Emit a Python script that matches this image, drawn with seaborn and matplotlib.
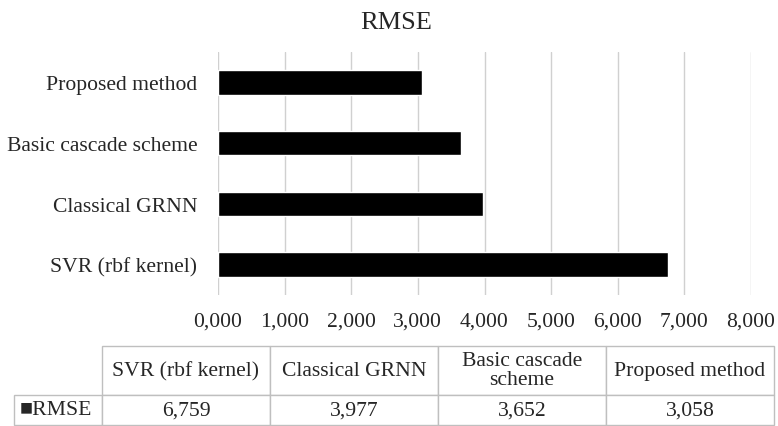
import seaborn as sns
import matplotlib.pyplot as plt
import pandas as pd

# data
methods = ['Proposed method', 'Basic cascade scheme', 'Classical GRNN', 'SVR (rbf kernel)']
rmse = [3.058, 3.652, 3.977, 6.759]
xticks = [0, 1, 2, 3, 4, 5, 6, 7, 8]

# table columns run the other way round
table_cols = ['SVR (rbf kernel)', 'Classical GRNN', 'Basic cascade\nscheme', 'Proposed method']
table_vals = [6.759, 3.977, 3.652, 3.058]

FS = 15.6

sns.set_style('white')
plt.rcParams['font.family'] = ['Liberation Serif', 'DejaVu Serif']
plt.rcParams['font.size'] = FS

df = pd.DataFrame({'method': methods, 'RMSE': rmse})

fig = plt.figure(figsize=(7.78, 4.27), dpi=100)
ax = fig.add_axes([218 / 778, 1 - 296 / 427, 533 / 778, 243 / 427])

sns.barplot(data=df, x='RMSE', y='method', order=methods, orient='h',
            color='black', width=0.4, saturation=1, ax=ax)

ax.set_xlim(0, 8)
ax.set_xticks(xticks)
ax.set_xticklabels([f'{v:.3f}'.replace('.', ',') for v in xticks])
ax.set_xlabel('')
ax.set_ylabel('')
ax.grid(axis='x', color='#d0d0d0', linewidth=1)
ax.set_axisbelow(True)
ax.tick_params(axis='x', length=0, pad=12, labelsize=FS)
ax.tick_params(axis='y', length=0, pad=15, labelsize=FS)
sns.despine(ax=ax, left=True, bottom=True)

fig.text(396 / 778, 1 - 23 / 427, 'RMSE', ha='center', va='center', fontsize=19)

# data table under the chart, built as plain cells (first column = row label)
tax = fig.add_axes([14 / 778, 1 - 426 / 427, 760 / 778, 79 / 427])
tax.axis('off')
fmt_vals = [f'{v:.3f}'.replace('.', ',') for v in table_vals]
cells = [[''] + table_cols, ['■RMSE'] + fmt_vals]
tbl = tax.table(cellText=cells, colWidths=[88 / 760] + [168 / 760] * 4,
                cellLoc='center', bbox=[0, 0, 1, 1])
tbl.auto_set_font_size(False)
for (r, c), cell in tbl.get_celld().items():
    cell.set_edgecolor('#bfbfbf')
    cell.set_linewidth(1)
    cell.set_height(49 if r == 0 else 30)
    cell.get_text().set_fontsize(FS)
    cell.get_text().set_linespacing(1.0)
    cell.PAD = 0.06
    if r == 0 and c == 0:
        cell.visible_edges = 'open'
    if r == 1 and c == 0:
        cell.get_text().set_horizontalalignment('left')
        cell._loc = 'left'

fig.savefig('out.png', dpi=100)
